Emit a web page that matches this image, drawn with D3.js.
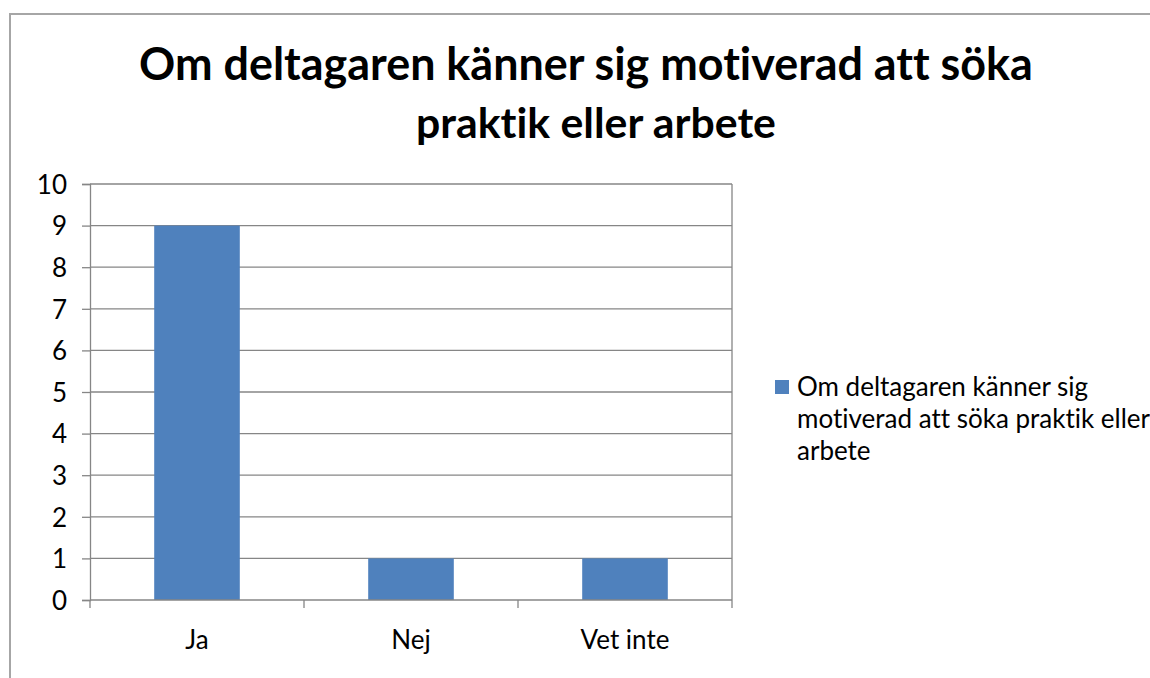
<!DOCTYPE html>
<html><head><meta charset="utf-8">
<script src="https://cdn.jsdelivr.net/npm/d3@7"></script>
<style>html,body{margin:0;padding:0;background:#fff;} svg{display:block;} text{font-variant-ligatures:none;font-feature-settings:"liga" 0;}</style>
</head><body>
<svg id="c" width="1150" height="678"></svg>
<script>
const categories = ["Ja", "Nej", "Vet inte"];
const values = [9, 1, 1];
const yTicks = [0,1,2,3,4,5,6,7,8,9,10];
const titleLines = ["Om deltagaren känner sig motiverad att söka", "praktik eller arbete"];
const legendLines = ["Om deltagaren känner sig", "motiverad att söka praktik eller", "arbete"];

const FONT = "Lato, 'Open Sans', sans-serif";
const svg = d3.select("#c");
const grid = "#868686";

// outer border
svg.append("path").attr("d","M1151,14 H10 V679").attr("fill","none").attr("stroke","#a6a6a6").attr("stroke-width",2);

const x = d3.scaleBand().domain(categories).range([90,732]).paddingInner(0.6).paddingOuter(0.3);
const y = d3.scaleLinear().domain([0,10]).range([600,184]);

function fit(sel, target){
  const w = sel.node().getComputedTextLength();
  const fs = parseFloat(sel.attr("font-size"));
  const nf = fs*target/w;
  sel.attr("font-size", nf);
  return nf;
}

// legend first, to determine small font size
svg.append("rect").attr("x",775).attr("y",380).attr("width",14).attr("height",14).attr("fill","#4f81bd");
let SMALL = 20;
legendLines.forEach((t,i)=>{
  const lt = svg.append("text").attr("x",797).attr("y",396+i*32)
    .attr("font-family",FONT).attr("font-size",SMALL).attr("fill","#000").text(t);
  if(i===0) SMALL = fit(lt, 291);
});

// gridlines
svg.append("g").selectAll("line").data(yTicks.filter(d=>d>0)).join("line")
  .attr("x1",90).attr("x2",732).attr("y1",d=>y(d)).attr("y2",d=>y(d))
  .attr("stroke",grid).attr("stroke-width",1.3);

// bars
svg.append("g").selectAll("rect").data(values).join("rect")
  .attr("x",(d,i)=>x(categories[i])).attr("width",x.bandwidth())
  .attr("y",d=>y(d)).attr("height",d=>y(0)-y(d)).attr("fill","#4f81bd");

// y axis
const ya = svg.append("g").attr("transform","translate(90,0)")
  .call(d3.axisLeft(y).tickValues(yTicks).tickSize(8).tickPadding(15).tickFormat(d3.format("d")));
ya.select(".domain").attr("stroke",grid).attr("stroke-width",1.3);
ya.selectAll(".tick line").attr("stroke",grid).attr("stroke-width",1.3);
ya.selectAll(".tick text").attr("font-family",FONT).attr("font-size",SMALL).attr("fill","#000").attr("dy","0.36em");

// right border of plot area
svg.append("line").attr("x1",732).attr("x2",732).attr("y1",y(10)).attr("y2",y(0)).attr("stroke",grid).attr("stroke-width",1.3);

// x axis
const xa = svg.append("g").attr("transform","translate(0,600)")
  .call(d3.axisBottom(x).tickSize(0).tickPadding(0));
xa.select(".domain").remove();
xa.append("line").attr("x1",90).attr("x2",732).attr("stroke",grid).attr("stroke-width",1.3);
const step = x.step();
xa.selectAll(".sep").data(d3.range(categories.length+1)).join("line")
  .attr("x1",d=>90+d*step).attr("x2",d=>90+d*step).attr("y1",0).attr("y2",8)
  .attr("stroke",grid).attr("stroke-width",1.3);
xa.selectAll(".tick text").attr("font-family",FONT).attr("font-size",SMALL).attr("fill","#000").attr("y",49).attr("dy",0);

// title
const tw = [894, 360];
const tcx = [586, 596];
titleLines.forEach((t,i)=>{
  const tt = svg.append("text").attr("x",tcx[i]).attr("y",80+i*58).attr("text-anchor","middle")
    .attr("font-family",FONT).attr("font-weight","bold").attr("font-size",42).attr("fill","#000").text(t);
  fit(tt, tw[i]);
});
</script>
</body></html>
